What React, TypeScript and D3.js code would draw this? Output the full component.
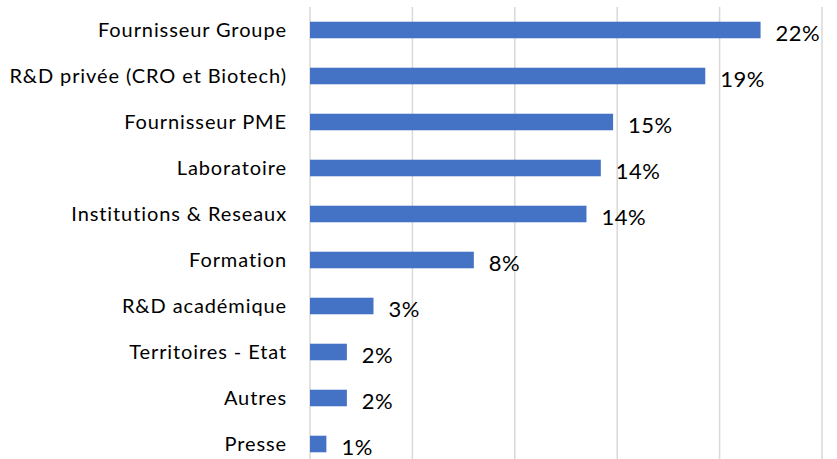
import React, { useEffect, useRef } from "react";
import * as d3 from "d3";

const categories = [
  "Fournisseur Groupe",
  "R&D privée (CRO et Biotech)",
  "Fournisseur PME",
  "Laboratoire",
  "Institutions & Reseaux",
  "Formation",
  "R&D académique",
  "Territoires - Etat",
  "Autres",
  "Presse",
];
const values = [22.0, 19.3, 14.8, 14.2, 13.5, 8.0, 3.1, 1.8, 1.8, 0.8];
const valueLabels = ["22%", "19%", "15%", "14%", "14%", "8%", "3%", "2%", "2%", "1%"];
const gridTicks = [0, 5, 10, 15, 20, 25];

const W = 837;
const H = 459;

export default function App() {
  const ref = useRef<SVGSVGElement>(null);

  useEffect(() => {
    const svg = d3.select(ref.current);
    svg.selectAll("*").remove();

    const x = d3.scaleLinear().domain([0, 25]).range([310, 822]);
    const y = d3
      .scaleBand<string>()
      .domain(categories)
      .range([7, 467])
      .paddingInner(0.64)
      .paddingOuter(0.32);

    // gridlines
    svg
      .selectAll(".grid")
      .data(gridTicks)
      .enter()
      .append("line")
      .attr("class", "grid")
      .attr("x1", (d) => x(d))
      .attr("x2", (d) => x(d))
      .attr("y1", 7)
      .attr("y2", H)
      .style("stroke", "#d9d9d9")
      .style("stroke-width", 1.5);

    // bars
    svg
      .selectAll(".bar")
      .data(values)
      .enter()
      .append("rect")
      .attr("class", "bar")
      .attr("x", x(0))
      .attr("y", (d, i) => y(categories[i])!)
      .attr("width", (d) => x(d) - x(0))
      .attr("height", y.bandwidth())
      .style("fill", "#4472c4");

    // category labels
    svg
      .selectAll(".cat")
      .data(categories)
      .enter()
      .append("text")
      .attr("class", "cat")
      .attr("x", 287)
      .attr("y", (d) => y(d)! + y.bandwidth() / 2)
      .attr("dy", "0.35em")
      .attr("text-anchor", "end")
      .style("font-family", "Lato, 'Open Sans', sans-serif")
      .style("font-size", "20px")
      .style("letter-spacing", "0.9px")
      .style("fill", "#000")
      .text((d) => d);

    // value labels
    svg
      .selectAll(".val")
      .data(values)
      .enter()
      .append("text")
      .attr("class", "val")
      .attr("x", (d) => x(d) + 15)
      .attr("y", (d, i) => y(categories[i])! + y.bandwidth() / 2 + 3)
      .attr("dy", "0.35em")
      .style("font-family", "Lato, 'Open Sans', sans-serif")
      .style("font-size", "22px")
      .style("letter-spacing", "0.5px")
      .style("fill", "#000")
      .text((d, i) => valueLabels[i]);
  }, []);

  return (
    <div>
      <svg
        ref={ref}
        width={W}
        height={H}
        style={{ position: "absolute", left: 0, top: 0, background: "#fff" }}
      ></svg>
    </div>
  );
}
